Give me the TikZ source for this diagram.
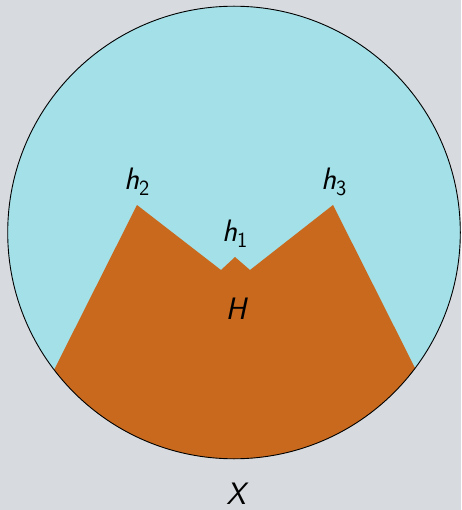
\documentclass[tikz,border=0pt]{standalone}
\definecolor{bg}{RGB}{215,219,223}
\definecolor{sky}{RGB}{163,224,231}
\definecolor{rust}{RGB}{200,105,30}
\tikzset{lbl/.style={font=\fontsize{31}{36}\selectfont\sffamily\itshape, inner sep=0pt}}
\newcommand{\sub}[1]{\textsubscript{\upshape#1}}
\begin{document}
\begin{tikzpicture}[x=1pt,y=-1pt]
\useasboundingbox[fill=bg] (0,0) rectangle (461,510);
\coordinate (c) at (234,232.5);
\fill[sky] (c) circle[radius=226.3];
\begin{scope}
\clip (c) circle[radius=226.3];
\coordinate (h2) at (137,205);
\coordinate (n1) at (221,270);
\coordinate (h1) at (235,257);
\coordinate (n2) at (250,270);
\coordinate (h3) at (333,205);
\fill[rust] (14,449.5) -- (h2) -- (n1) -- (h1) -- (n2) -- (h3) -- (457.5,452.5) -- (457.5,480) -- (14,480) -- cycle;
\end{scope}
\draw[black, line width=0.9pt] (c) circle[radius=226.3];
\node[lbl] (l2) at (137,182) {h\sub{2}};
\node[lbl] (l3) at (334,182) {h\sub{3}};
\node[lbl] (l1) at (235,234) {h\sub{1}};
\node[lbl] (lH) at (236,309) {H};
\node[lbl] (lX) at (236,494) {X};
\end{tikzpicture}
\end{document}
